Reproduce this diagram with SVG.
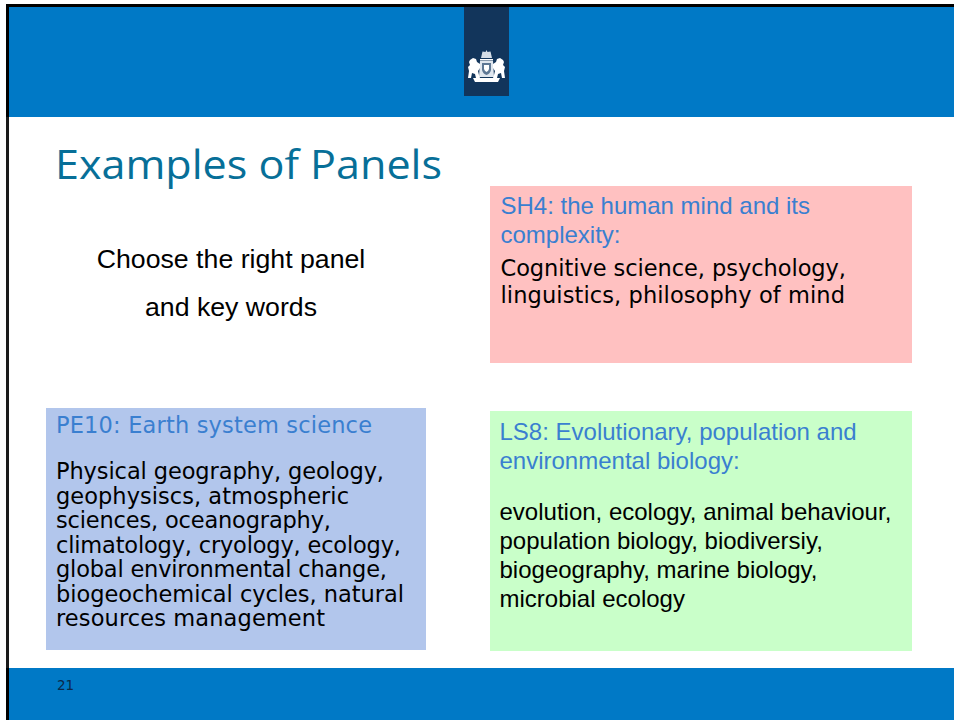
<svg xmlns="http://www.w3.org/2000/svg" width="954" height="720" viewBox="0 0 954 720">
<style>
.sans{font-family:"Liberation Sans",Arial,sans-serif}
.ver{font-family:"DejaVu Sans",Verdana,sans-serif}
.hd{fill:#3a7fd0}
.bd{fill:#000}
</style>
<rect width="954" height="720" fill="#fff"/>
<g id="frame">
<rect x="6" y="4" width="948" height="3" fill="#000"/>
<rect x="6" y="4" width="3" height="716" fill="#1a1a1a"/>
<rect x="9" y="7" width="945" height="110" fill="#0079c6"/>
<rect x="9" y="668" width="945" height="52" fill="#0079c6"/>
<rect x="6" y="668" width="3" height="52" fill="#000"/>
<rect x="6" y="4" width="3" height="113" fill="#000"/>
</g>
<g id="logo">
<rect x="464" y="7" width="45" height="89" fill="#12355b"/>
<g fill="#fff">
<path d="M486.500 50l1 2 3-.5 1.500 6.500h-11l1.500-6.500 3 .5z" fill="#d5dde6"/>
<rect x="480" y="59" width="13" height="1.500"/>
<path d="M480 61h13l1 16h-15z" fill="#dfe6ee"/>
<path d="M482 63h9v7q-1 4-4.500 5-3.500-1-4.500-5z" fill="#5d7794"/>
<path d="M484 65h5v4q-.5 2-2.500 3-2-1-2.500-3z" fill="#fff"/>
<path d="M470 60l3-2 3 1 1 3 3 2v4l-2 3 1 4 1 3h-4l-1-4-3-1-1 5h-3l1-7-1-4 2-2-1-3z"/>
<path d="M503 60l-3-2-3 1-1 3-3 2v4l2 3-1 4-1 3h4l1-4 3-1 1 5h3l-1-7 1-4-2-2 1-3z"/>
<path d="M473 78h27l-2 4h-23z"/>
</g>
</g>
<g id="title"><text x="55" y="179" font-size="40" fill="#076f98" style="font-family:'Open Sans','DejaVu Sans',sans-serif" textLength="387" lengthAdjust="spacingAndGlyphs">Examples of Panels</text></g>
<g id="intro" class="sans" font-size="26.700" text-anchor="middle" fill="#000">
<text x="231" y="268">Choose the right panel</text>
<text x="231" y="316">and key words</text>
</g>
<g id="sh4">
<rect x="490" y="186" width="422" height="177" fill="#ffc1c1"/>
<g class="sans" font-size="24"><text class="hd" x="500.500" y="214">SH4: the human mind and its</text>
<text class="hd" x="500.500" y="243">complexity:</text></g>
<g class="ver" font-size="22.500"><text class="bd" x="500.500" y="276" textLength="345.500" lengthAdjust="spacing">Cognitive science, psychology,</text>
<text class="bd" x="500.500" y="303" textLength="344.500" lengthAdjust="spacing">linguistics, philosophy of mind</text></g>
</g>
<g id="pe10">
<rect x="46" y="408" width="380" height="242" fill="#b2c6ec"/>
<text class="ver hd" x="56" y="433" font-size="22.500" textLength="316" lengthAdjust="spacing">PE10: Earth system science</text>
<g class="ver bd" font-size="22.500">
<text x="56" y="479" textLength="328" lengthAdjust="spacing">Physical geography, geology,</text>
<text x="56" y="504" textLength="293" lengthAdjust="spacing">geophysiscs, atmospheric</text>
<text x="56" y="528" textLength="275" lengthAdjust="spacing">sciences, oceanography,</text>
<text x="56" y="553" textLength="345" lengthAdjust="spacing">climatology, cryology, ecology,</text>
<text x="56" y="577" textLength="331" lengthAdjust="spacing">global environmental change,</text>
<text x="56" y="602" textLength="348" lengthAdjust="spacing">biogeochemical cycles, natural</text>
<text x="56" y="626" textLength="269" lengthAdjust="spacing">resources management</text>
</g>
</g>
<g id="ls8">
<rect x="490" y="411" width="422" height="240" fill="#c9ffc9"/>
<g class="sans" font-size="24"><text class="hd" x="499.500" y="440">LS8: Evolutionary, population and</text>
<text class="hd" x="499.500" y="469">environmental biology:</text></g>
<g class="sans bd" font-size="24">
<text x="499.500" y="520">evolution, ecology, animal behaviour,</text>
<text x="499.500" y="549">population biology, biodiversiy,</text>
<text x="499.500" y="578">biogeography, marine biology,</text>
<text x="499.500" y="607">microbial ecology</text>
</g>
</g>
<g id="pagenum"><text class="ver" x="57" y="690" font-size="13.500" fill="#0b2a4a">21</text></g>
</svg>
